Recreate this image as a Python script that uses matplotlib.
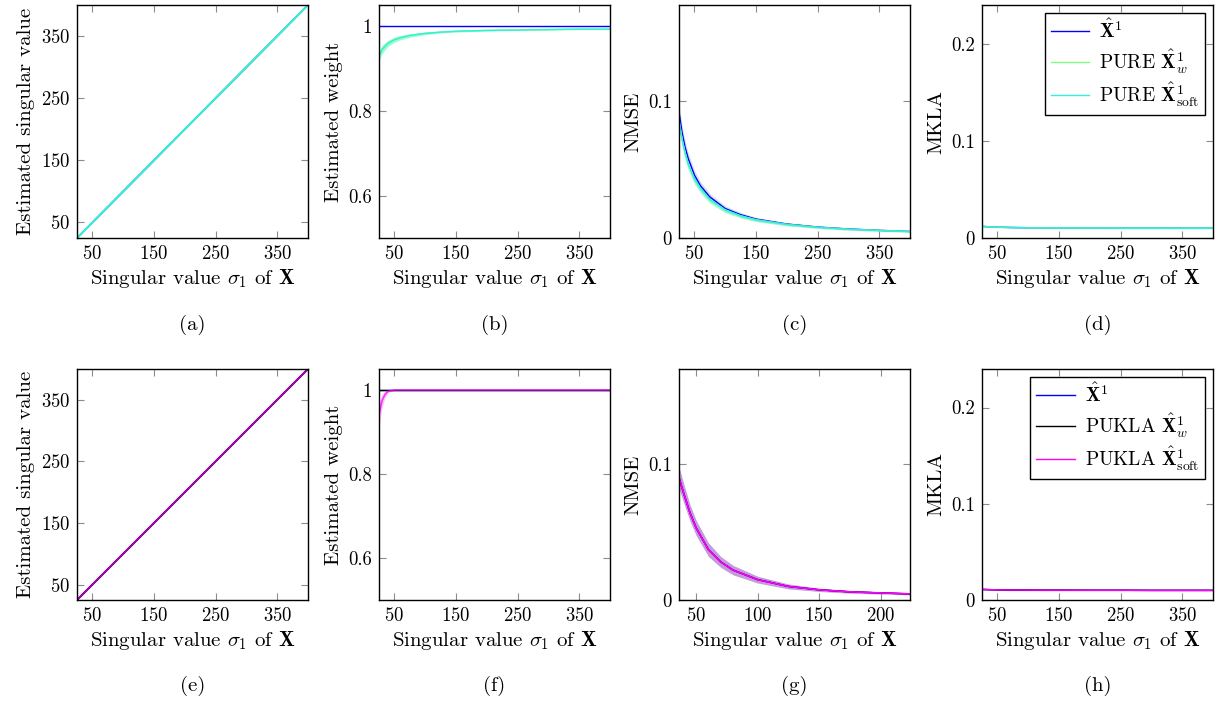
import matplotlib
matplotlib.use("Agg")
import matplotlib.pyplot as plt
import numpy as np

plt.rcParams["font.family"] = "serif"
plt.rcParams["font.serif"] = ["cmr10"]
plt.rcParams["mathtext.fontset"] = "cm"
plt.rcParams["axes.formatter.use_mathtext"] = True

# ---- data ----
sigma = [25, 30, 35, 40, 50, 60, 75, 100, 125, 150, 200, 250, 300, 350, 400]

# estimated singular value (panels a, e): follows sigma
est_sv = [25, 30, 35, 40, 50, 60, 75, 100, 125, 150, 200, 250, 300, 350, 400]

# estimated weight (panel b)
w_base = [1.0] * 15
w_pure = [0.930, 0.945, 0.953, 0.960, 0.968, 0.973, 0.978, 0.983, 0.986, 0.988, 0.990, 0.991, 0.992, 0.993, 0.993]
w_pure_sd = [0.012, 0.010, 0.008, 0.007, 0.006, 0.005, 0.004, 0.003, 0.002, 0.002, 0.0015, 0.001, 0.001, 0.001, 0.001]
# estimated weight (panel f)
w_pukla_soft = [0.940, 0.975, 0.990, 0.997, 1.0, 1.0, 1.0, 1.0, 1.0, 1.0, 1.0, 1.0, 1.0, 1.0, 1.0]
w_pukla_sd = [0.030, 0.015, 0.007, 0.003, 0.001, 0, 0, 0, 0, 0, 0, 0, 0, 0, 0]

# NMSE (panel c)
nmse_base = [0.092, 0.077, 0.066, 0.058, 0.046, 0.038, 0.030, 0.0215, 0.017, 0.0138, 0.0102, 0.0080, 0.0066, 0.0056, 0.0048]
nmse_pure = [0.086, 0.072, 0.062, 0.054, 0.043, 0.036, 0.028, 0.0205, 0.0162, 0.0133, 0.0099, 0.0078, 0.0064, 0.0055, 0.0047]
nmse_sd = [0.006, 0.005, 0.0045, 0.004, 0.0035, 0.003, 0.0025, 0.002, 0.0016, 0.0013, 0.001, 0.0008, 0.0007, 0.0006, 0.0005]

# NMSE (panel g)
sigma_g = [36, 40, 45, 50, 60, 70, 80, 100, 125, 150, 175, 200, 224]
nmse_g = [0.090, 0.078, 0.064, 0.053, 0.037, 0.028, 0.022, 0.015, 0.010, 0.0075, 0.0060, 0.0052, 0.0045]
nmse_g_sd = [0.008, 0.007, 0.006, 0.0055, 0.005, 0.004, 0.0035, 0.0025, 0.0018, 0.0012, 0.001, 0.0008, 0.0007]

# MKLA (panels d, h)
mkla_top = [0.0120, 0.0118, 0.0116, 0.0114, 0.0112, 0.0110, 0.0108, 0.0106, 0.0105, 0.0104, 0.0103, 0.0102, 0.0102, 0.0101, 0.0101]
mkla_bot = [0.0110, 0.0109, 0.0108, 0.0107, 0.0106, 0.0105, 0.0104, 0.0103, 0.0102, 0.0102, 0.0101, 0.0101, 0.0100, 0.0100, 0.0100]
mkla_sd = [0.0008] * 15

BLUE = "#0000ff"
GREEN = "#80ff80"
CYAN = "#30f0e0"
BLACK = "#000000"
MAGENTA = "#ff00ff"

fig = plt.figure(figsize=(12.22, 7.02), dpi=100)

lefts = [77, 379, 679, 982]
W = 1222.0
H = 702.0
row_tb = [(5, 238), (369, 600)]
axes = []
for r, (top, bot) in enumerate(row_tb):
    for c, l in enumerate(lefts):
        ax = fig.add_axes([l / W, 1 - bot / H, 231 / W, (bot - top) / H])
        axes.append(ax)

xlab = r"Singular value $\sigma_1$ of $\mathbf{X}$"
caps = ["(a)", "(b)", "(c)", "(d)", "(e)", "(f)", "(g)", "(h)"]

s = np.array(sigma)


def band(ax, x, m, sd, color, alpha=0.3):
    m = np.array(m)
    sd = np.array(sd)
    ax.fill_between(x, m - sd, m + sd, color=color, alpha=alpha, lw=0)


# (a)
ax = axes[0]
ax.plot(s, est_sv, color=BLUE, lw=1.3)
ax.plot(s, est_sv, color=GREEN, lw=1.3)
ax.plot(s, est_sv, color=CYAN, lw=1.3)
# (b)
ax = axes[1]
band(ax, s, w_pure, w_pure_sd, GREEN, 0.45)
band(ax, s, w_pure, w_pure_sd, CYAN, 0.25)
ax.plot(s, w_base, color=BLUE, lw=1.0)
ax.plot(s, w_pure, color=GREEN, lw=1.0)
ax.plot(s, w_pure, color=CYAN, lw=1.0)
# (c)
ax = axes[2]
band(ax, s, nmse_base, nmse_sd, BLUE, 0.15)
band(ax, s, nmse_pure, nmse_sd, GREEN, 0.35)
band(ax, s, nmse_pure, nmse_sd, CYAN, 0.3)
ax.plot(s, nmse_base, color=BLUE, lw=1.0)
ax.plot(s, nmse_pure, color=GREEN, lw=1.0)
ax.plot(s, nmse_pure, color=CYAN, lw=1.0)
# (d)
ax = axes[3]
band(ax, s, mkla_top, mkla_sd, CYAN)
ax.plot(s, mkla_top, color=BLUE, lw=1.0, label=r"$\hat{\mathbf{X}}^1$")
ax.plot(s, mkla_top, color=GREEN, lw=1.0, label=r"PURE $\hat{\mathbf{X}}^1_w$")
ax.plot(s, mkla_top, color=CYAN, lw=1.0, label=r"PURE $\hat{\mathbf{X}}^1_{\mathrm{soft}}$")
# (e)
ax = axes[4]
ax.plot(s, est_sv, color=BLUE, lw=1.3)
ax.plot(s, est_sv, color=BLACK, lw=1.3)
ax.plot(s, est_sv, color=MAGENTA, lw=1.3, alpha=0.7)
# (f)
ax = axes[5]
band(ax, s, w_pukla_soft, w_pukla_sd, MAGENTA, 0.25)
ax.plot(s, w_base, color=BLUE, lw=1.0)
ax.plot(s, w_base, color=BLACK, lw=1.0)
ax.plot(s, w_pukla_soft, color=MAGENTA, lw=1.2, alpha=0.75)
# (g)
ax = axes[6]
sg = np.array(sigma_g)
band(ax, sg, nmse_g, nmse_g_sd, "#8020b0", 0.45)
ax.plot(sg, nmse_g, color=BLUE, lw=1.0)
ax.plot(sg, nmse_g, color=BLACK, lw=1.0)
ax.plot(sg, nmse_g, color=MAGENTA, lw=1.2)
# (h)
ax = axes[7]
band(ax, s, mkla_bot, mkla_sd, MAGENTA, 0.25)
ax.plot(s, mkla_bot, color=BLUE, lw=1.0, label=r"$\hat{\mathbf{X}}^1$")
ax.plot(s, mkla_bot, color=BLACK, lw=1.0, label=r"PUKLA $\hat{\mathbf{X}}^1_w$")
ax.plot(s, mkla_bot, color=MAGENTA, lw=1.0, label=r"PUKLA $\hat{\mathbf{X}}^1_{\mathrm{soft}}$")

for i, ax in enumerate(axes):
    col = i % 4
    if i == 6:
        ax.set_xlim(36, 224)
        ax.set_xticks([50, 100, 150, 200])
    else:
        ax.set_xlim(25, 400)
        ax.set_xticks([50, 150, 250, 350])
    if col == 0:
        ax.set_ylim(25, 400)
        ax.set_yticks([50, 150, 250, 350])
        ax.set_ylabel("Estimated singular value", fontsize=15)
    elif col == 1:
        ax.set_ylim(0.5, 1.05)
        ax.set_yticks([0.6, 0.8, 1.0])
        ax.set_yticklabels(["0.6", "0.8", "1"])
        ax.set_ylabel("Estimated weight", fontsize=15)
    elif col == 2:
        ax.set_ylim(0, 0.17)
        ax.set_yticks([0, 0.1])
        ax.set_yticklabels(["0", "0.1"])
        ax.set_ylabel("NMSE", fontsize=15)
    else:
        ax.set_ylim(0, 0.24)
        ax.set_yticks([0, 0.1, 0.2])
        ax.set_yticklabels(["0", "0.1", "0.2"])
        ax.set_ylabel("MKLA", fontsize=15)
    ax.set_xlabel(xlab, fontsize=15, labelpad=3)
    ax.tick_params(direction="in", top=True, right=True, length=5,
                   color="#8c8c8c", labelsize=13.5, pad=5)
    for sp in ax.spines.values():
        sp.set_linewidth(1.0)
    ax.text(0.5, -0.33, caps[i], transform=ax.transAxes, ha="center",
            va="top", fontsize=15)

for ax in (axes[3], axes[7]):
    leg = ax.legend(loc="upper right", fontsize=14, fancybox=False,
                    edgecolor="black", framealpha=1, handlelength=2.0,
                    borderaxespad=0.4, labelspacing=0.25, handletextpad=0.5,
                    borderpad=0.3)
    leg.get_frame().set_linewidth(1.0)

fig.savefig("out.png", dpi=100)
